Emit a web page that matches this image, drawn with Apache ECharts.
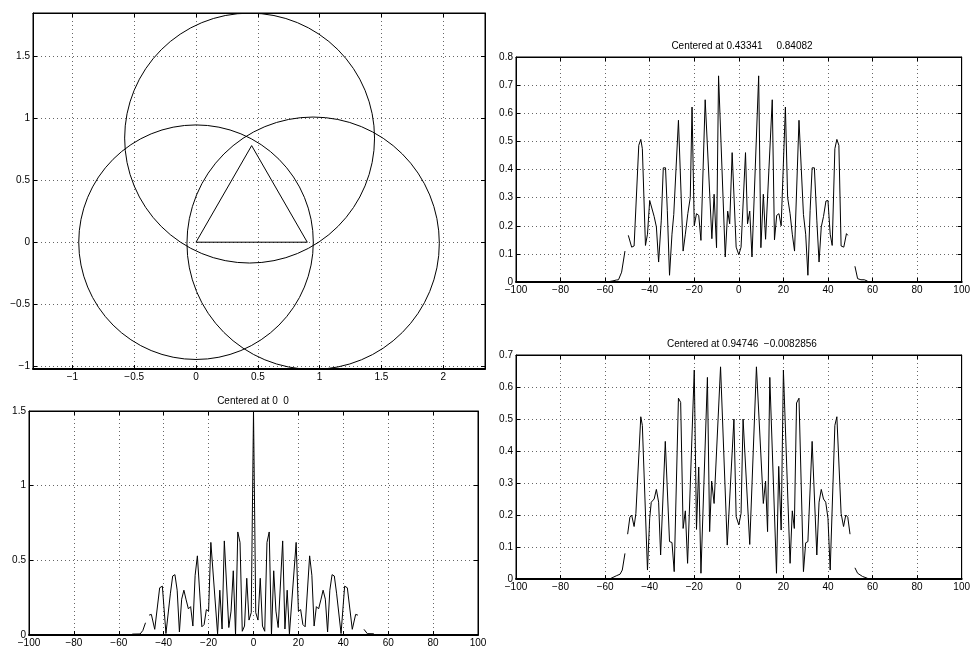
<!DOCTYPE html>
<html><head><meta charset="utf-8">
<script src="https://cdn.jsdelivr.net/npm/echarts@6/dist/echarts.min.js"></script>
<style>html,body{margin:0;padding:0;background:#fff}#c{width:973px;height:648px}</style>
</head><body><div id="c"></div>
<script>
// ---------- Panel 1: circles and triangle ----------
const circleCX = [0, 0.43341, 0.94746];
const circleCY = [0, 0.84082, -0.0082856];
const circleR  = [0.948, 1.01, 1.02];
const triX = [0, 0.9, 0.45, 0];
const triY = [0, 0, 0.78, 0];
const geoXTicks = [-1, -0.5, 0, 0.5, 1, 1.5, 2];
const geoYTicks = [-1, -0.5, 0, 0.5, 1, 1.5];

// ---------- Panel 2: Centered at 0.43341 0.84082 ----------
const titleA = 'Centered at 0.43341     0.84082';
const xA = [-58.5,-56.5,-55,-54,-52.6,-51.1,-50.3,-49.6,-48.9,-48.1,-47,-44.9,-44,-43.3,-41.9,-41,-40,-39.3,-38,-37,-36,-34.8,-33.9,-32.9,-32.1,-31.1,-30,-29.2,-27.1,-25,-24,-22.9,-21.8,-21,-20,-19,-18,-17,-15.1,-12.1,-11.1,-10,-9.1,-6.1,-5,-4.1,-3,-1.2,0,1,3,3.9,4.9,5.9,8.9,9.9,11,12,15,16,17,18,19,20.9,21.9,23,24,25,27,29,30,31,32,32.9,33.9,35,36,37,38,39.1,40,41,41.9,43.1,44,44.9,45.9,47.1,48.3,48.9,50.5,52.1,53.3,54.8,56.3,57.8];
const yA = [0.001,0.004,0.007,0.008,0.035,0.11,null,0.166,0.172,0.124,0.128,0.486,0.507,0.474,0.13,0.17,0.29,0.288,0.233,0.196,0.071,0.22,0.406,0.406,0.255,0.024,0.17,0.24,0.575,0.11,0.17,0.243,0.30,0.622,0.2,0.243,0.237,0.148,0.648,0.154,0.312,0.122,0.733,0.089,0.252,0.207,0.46,0.124,0.097,0.124,0.46,0.207,0.252,0.089,0.733,0.122,0.312,0.152,0.648,0.15,0.237,0.243,0.2,0.622,0.30,0.243,0.17,0.11,0.575,0.24,0.17,0.024,0.255,0.406,0.406,0.22,0.071,0.196,0.233,0.288,0.29,0.17,0.13,0.474,0.507,0.486,0.128,0.124,0.172,0.166,null,0.056,0.012,0.008,0.008,0.003];

// ---------- Panel 3: Centered at 0 0 ----------
const titleC = 'Centered at 0  0';
const xC = [-54,-50.5,-49.3,-48.1,-47.5,-46.5,-45.5,-44,-41.8,-40.6,-39,-37,-36,-35,-34,-33,-32,-31,-30,-29,-28,-27,-26,-25,-23,-22,-21,-20,-19,-16,-15,-14,-13,-11,-10,-9,-8,-7,-6,-5,-4,-3,-2,-1,0,1,2,3,4,5,6,7,8,9,10,11,13,14,15,16,19,20,21,22,23,25,26,27,28,29,30,31,32,33,34,35,36,37,39,40.6,41.8,44,45.5,46.5,47.8,49.2,50.7,53.6];
const yC = [0.006,0.007,0.03,0.082,null,0.133,0.138,0.038,0.316,0.327,0.01,0.28,0.395,0.404,0.3,0.02,0.24,0.3,0.235,0.175,0.19,0.06,0.4,0.53,0.055,0.07,0.17,0.16,0.62,0.008,0.3,0.04,0.63,0.05,0.16,0.43,0,0.69,0.62,0.025,0.06,0.38,0.1,0.15,1.5,0.15,0.1,0.38,0.06,0.025,0.62,0.69,0,0.43,0.16,0.05,0.63,0.04,0.3,0.008,0.62,0.16,0.17,0.07,0.055,0.53,0.4,0.06,0.19,0.175,0.235,0.3,0.24,0.02,0.3,0.404,0.395,0.28,0.01,0.327,0.316,0.038,0.138,0.133,null,0.038,0.009,0.008];

// ---------- Panel 4: Centered at 0.94746 -0.0082856 ----------
const titleB = 'Centered at 0.94746  \u22120.0082856';
const xB = [-58,-55,-53.3,-52.3,-51.1,-50.5,-49.9,-48.9,-48.1,-47,-46.2,-44,-43.3,-41,-40,-39.3,-38,-37,-36,-35.1,-33,-31.1,-30,-29,-27.1,-26.1,-25,-24,-23,-20,-19,-18,-17,-14.1,-13.1,-12.2,-11.1,-8.2,-5.2,-2.2,-1.2,0,1,1.9,4.9,7.9,11,12,12.9,13.9,16.9,17.9,19,20,23,24,24.9,25.9,27,29,30,31,32.9,35,36,37,38,39,40,41,43.1,44,45.9,47,48,48.9,49.9,51,52.1,53.3,55.5,57.8];
const yB = [0,0.01,0.015,0.028,0.08,null,0.14,0.193,0.2,0.164,0.205,0.507,0.48,0.028,0.19,0.24,0.25,0.28,0.24,0.075,0.43,0.117,0.114,0.023,0.565,0.552,0.158,0.213,0.049,0.653,0.155,0.35,0.018,0.63,0.148,0.306,0.236,0.663,0.106,0.5,0.195,0.169,0.205,0.5,0.108,0.663,0.236,0.306,0.148,0.63,0.018,0.352,0.153,0.653,0.049,0.213,0.158,0.55,0.565,0.023,0.113,0.117,0.43,0.075,0.24,0.28,0.25,0.24,0.19,0.028,0.48,0.507,0.205,0.164,0.2,0.193,0.14,null,0.035,0.018,0.008,0.002];

const FONT = '"Liberation Sans", Arial, Helvetica, sans-serif';
function fmt(v){ return String(+(+v).toFixed(4)).replace('-', '\u2212'); }
function pairs(xs, ys){ return xs.map((x,i)=>[x, ys[i]===null ? '-' : ys[i]]); }

const grids = [
  {left:33, top:13, width:452, height:356},
  {left:516, top:57, width:450, height:225},
  {left:29, top:411, width:449, height:225},
  {left:516, top:355, width:450, height:224}
].map(g => Object.assign({show:true, borderColor:'#000', borderWidth:1, backgroundColor:'transparent', containLabel:false}, g));

const axCfg = [
  {x:{min:-1.319, max:2.338, ticks:geoXTicks}, y:{min:-1.024, max:1.851, ticks:geoYTicks}},
  {x:{min:-100, max:100, interval:20}, y:{min:0, max:0.8, interval:0.1}},
  {x:{min:-100, max:100, interval:20}, y:{min:0, max:1.5, interval:0.5}},
  {x:{min:-100, max:100, interval:20}, y:{min:0, max:0.7, interval:0.1}}
];

function mkAxis(gi, cfg, pos){
  const main = (pos === 'bottom' || pos === 'left');
  const ax = {
    type:'value', gridIndex:gi, position:pos, min:cfg.min, max:cfg.max, scale:true,
    axisLine:{show:true, onZero:false, lineStyle:{color:'#000', width: pos==='bottom' ? 2 : 1}},
    axisTick:{show:true, inside:true, length:4, lineStyle:{color:'#000', width:1}},
    axisLabel:{show:main, color:'#000', fontFamily:FONT, fontSize:10, margin:3, formatter:fmt, showMinLabel:true, showMaxLabel:true},
    splitLine:{show:main, lineStyle:{color:'#666', width:1, type:[1,3]}},
    z: 5
  };
  if (cfg.ticks) { ax.axisTick.customValues = cfg.ticks; ax.axisLabel.customValues = cfg.ticks; }
  else { ax.interval = cfg.interval; }
  return ax;
}

const xAxis = [], yAxis = [];
axCfg.forEach((c, gi) => {
  xAxis.push(mkAxis(gi, c.x, 'bottom'));
  xAxis.push(mkAxis(gi, c.x, 'top'));
  yAxis.push(mkAxis(gi, c.y, 'left'));
  yAxis.push(mkAxis(gi, c.y, 'right'));
});

const lineStyle = {color:'#000', width:1};
function lineSeries(idx, data){
  return {type:'line', xAxisIndex:idx, yAxisIndex:idx, data:data, showSymbol:false, symbol:'none',
    connectNulls:false, clip:true, lineStyle:lineStyle, silent:true, z:10};
}

const series = [
  {
    type:'custom', xAxisIndex:0, yAxisIndex:0, clip:true, silent:true, z:10,
    data: circleCX.map((cx,i)=>[cx, circleCY[i], circleR[i]]),
    encode:{x:0, y:1},
    renderItem: function(params, api){
      const c = api.coord([api.value(0), api.value(1)]);
      const s = api.size([api.value(2), api.value(2)], [api.value(0), api.value(1)]);
      return {type:'circle', shape:{cx:c[0], cy:c[1], r:(s[0]+s[1])/2},
        style:{fill:'none', stroke:'#000', lineWidth:1}};
    }
  },
  lineSeries(0, pairs(triX, triY)),
  lineSeries(2, pairs(xA, yA)),
  lineSeries(4, pairs(xC, yC)),
  lineSeries(6, pairs(xB, yB))
];

function titleText(t, x, y){
  return {type:'text', x:x, y:y, z:20, style:{text:t, font:'10px ' + FONT, fill:'#000',
    align:'center', verticalAlign:'middle', textAlign:'center', textVerticalAlign:'middle'}};
}

const chart = echarts.init(document.getElementById('c'), null, {renderer:'canvas'});
chart.setOption({
  animation:false,
  backgroundColor:'#fff',
  textStyle:{fontFamily:FONT},
  grid:grids, xAxis:xAxis, yAxis:yAxis, series:series,
  graphic:[
    titleText(titleA, 742, 46),
    titleText(titleB, 742, 344),
    titleText(titleC, 253, 401)
  ]
});
</script></body></html>
